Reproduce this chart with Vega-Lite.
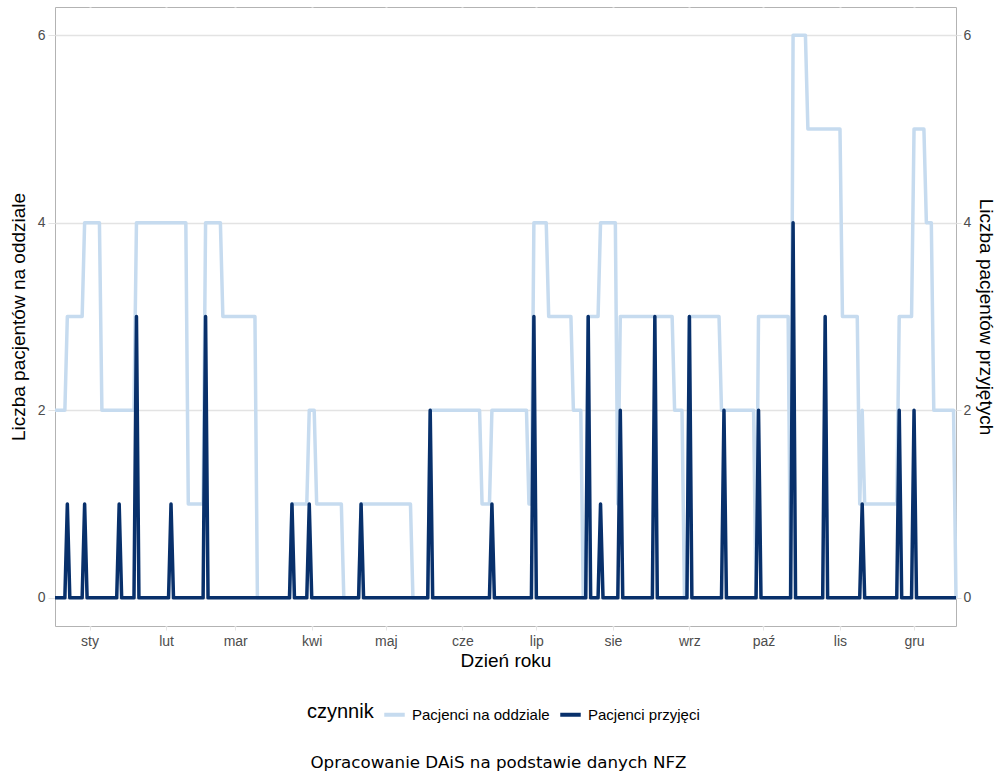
{
"$schema": "https://vega.github.io/schema/vega-lite/v6.json",
"width": 901, "height": 619,
"autosize": {"type": "none"},
"padding": {"left": 55, "top": 7, "right": 44, "bottom": 149},
"background": "white",
"config": {
  "view": {"stroke": "#b3b3b3", "strokeWidth": 1},
  "font": "Liberation Sans",
  "axis": {"labelFont": "Liberation Sans", "titleFont": "Liberation Sans", "titleFontWeight": "normal", "labelColor": "#4d4d4d", "titleColor": "#000000", "domain": false},
  "legend": {"orient": "none", "legendX": 252, "legendY": 695, "direction": "horizontal", "titleOrient": "left", "titleFontSize": 20, "titleFontWeight": "normal", "titleColor": "#000000", "titleFont": "Liberation Sans", "labelFont": "Liberation Sans", "labelFontSize": 15, "labelColor": "#000000", "symbolType": "stroke", "symbolStrokeWidth": 4, "symbolSize": 420, "columnPadding": 2, "labelOffset": 5, "titlePadding": 8},
  "title": {"font": "DejaVu Sans", "fontSize": 16.7, "fontWeight": "normal", "color": "#000000"}
},
"title": {"text": "Opracowanie DAiS na podstawie danych NFZ", "orient": "bottom", "anchor": "middle", "offset": 32, "dx": -7},
"data": {"values": [
{"d":1,"o":2,"a":0},{"d":2,"o":2,"a":0},{"d":3,"o":2,"a":0},{"d":4,"o":2,"a":0},{"d":5,"o":2,"a":0},
{"d":6,"o":3,"a":1},{"d":7,"o":3,"a":0},{"d":8,"o":3,"a":0},{"d":9,"o":3,"a":0},{"d":10,"o":3,"a":0},{"d":11,"o":3,"a":0},{"d":12,"o":3,"a":0},
{"d":13,"o":4,"a":1},{"d":14,"o":4,"a":0},{"d":15,"o":4,"a":0},{"d":16,"o":4,"a":0},{"d":17,"o":4,"a":0},{"d":18,"o":4,"a":0},{"d":19,"o":4,"a":0},
{"d":20,"o":2,"a":0},{"d":21,"o":2,"a":0},{"d":22,"o":2,"a":0},{"d":23,"o":2,"a":0},{"d":24,"o":2,"a":0},{"d":25,"o":2,"a":0},{"d":26,"o":2,"a":0},{"d":27,"o":2,"a":1},{"d":28,"o":2,"a":0},{"d":29,"o":2,"a":0},{"d":30,"o":2,"a":0},{"d":31,"o":2,"a":0},{"d":32,"o":2,"a":0},{"d":33,"o":2,"a":0},
{"d":34,"o":4,"a":3},{"d":35,"o":4,"a":0},{"d":36,"o":4,"a":0},{"d":37,"o":4,"a":0},{"d":38,"o":4,"a":0},{"d":39,"o":4,"a":0},{"d":40,"o":4,"a":0},{"d":41,"o":4,"a":0},{"d":42,"o":4,"a":0},{"d":43,"o":4,"a":0},{"d":44,"o":4,"a":0},{"d":45,"o":4,"a":0},{"d":46,"o":4,"a":0},{"d":47,"o":4,"a":0},{"d":48,"o":4,"a":1},{"d":49,"o":4,"a":0},{"d":50,"o":4,"a":0},{"d":51,"o":4,"a":0},{"d":52,"o":4,"a":0},{"d":53,"o":4,"a":0},{"d":54,"o":4,"a":0},
{"d":55,"o":1,"a":0},{"d":56,"o":1,"a":0},{"d":57,"o":1,"a":0},{"d":58,"o":1,"a":0},{"d":59,"o":1,"a":0},{"d":60,"o":1,"a":0},{"d":61,"o":1,"a":0},
{"d":62,"o":4,"a":3},{"d":63,"o":4,"a":0},{"d":64,"o":4,"a":0},{"d":65,"o":4,"a":0},{"d":66,"o":4,"a":0},{"d":67,"o":4,"a":0},{"d":68,"o":4,"a":0},
{"d":69,"o":3,"a":0},{"d":70,"o":3,"a":0},{"d":71,"o":3,"a":0},{"d":72,"o":3,"a":0},{"d":73,"o":3,"a":0},{"d":74,"o":3,"a":0},{"d":75,"o":3,"a":0},{"d":76,"o":3,"a":0},{"d":77,"o":3,"a":0},{"d":78,"o":3,"a":0},{"d":79,"o":3,"a":0},{"d":80,"o":3,"a":0},{"d":81,"o":3,"a":0},{"d":82,"o":3,"a":0},
{"d":83,"o":0,"a":0},{"d":84,"o":0,"a":0},{"d":85,"o":0,"a":0},{"d":86,"o":0,"a":0},{"d":87,"o":0,"a":0},{"d":88,"o":0,"a":0},{"d":89,"o":0,"a":0},{"d":90,"o":0,"a":0},{"d":91,"o":0,"a":0},{"d":92,"o":0,"a":0},{"d":93,"o":0,"a":0},{"d":94,"o":0,"a":0},{"d":95,"o":0,"a":0},{"d":96,"o":0,"a":0},
{"d":97,"o":1,"a":1},{"d":98,"o":1,"a":0},{"d":99,"o":1,"a":0},{"d":100,"o":1,"a":0},{"d":101,"o":1,"a":0},{"d":102,"o":1,"a":0},{"d":103,"o":1,"a":0},
{"d":104,"o":2,"a":1},{"d":105,"o":2,"a":0},{"d":106,"o":2,"a":0},
{"d":107,"o":1,"a":0},{"d":108,"o":1,"a":0},{"d":109,"o":1,"a":0},{"d":110,"o":1,"a":0},{"d":111,"o":1,"a":0},{"d":112,"o":1,"a":0},{"d":113,"o":1,"a":0},{"d":114,"o":1,"a":0},{"d":115,"o":1,"a":0},{"d":116,"o":1,"a":0},{"d":117,"o":1,"a":0},
{"d":118,"o":0,"a":0},{"d":119,"o":0,"a":0},{"d":120,"o":0,"a":0},{"d":121,"o":0,"a":0},{"d":122,"o":0,"a":0},{"d":123,"o":0,"a":0},{"d":124,"o":0,"a":0},
{"d":125,"o":1,"a":1},{"d":126,"o":1,"a":0},{"d":127,"o":1,"a":0},{"d":128,"o":1,"a":0},{"d":129,"o":1,"a":0},{"d":130,"o":1,"a":0},{"d":131,"o":1,"a":0},{"d":132,"o":1,"a":0},{"d":133,"o":1,"a":0},{"d":134,"o":1,"a":0},{"d":135,"o":1,"a":0},{"d":136,"o":1,"a":0},{"d":137,"o":1,"a":0},{"d":138,"o":1,"a":0},{"d":139,"o":1,"a":0},{"d":140,"o":1,"a":0},{"d":141,"o":1,"a":0},{"d":142,"o":1,"a":0},{"d":143,"o":1,"a":0},{"d":144,"o":1,"a":0},{"d":145,"o":1,"a":0},
{"d":146,"o":0,"a":0},{"d":147,"o":0,"a":0},{"d":148,"o":0,"a":0},{"d":149,"o":0,"a":0},{"d":150,"o":0,"a":0},{"d":151,"o":0,"a":0},{"d":152,"o":0,"a":0},
{"d":153,"o":2,"a":2},{"d":154,"o":2,"a":0},{"d":155,"o":2,"a":0},{"d":156,"o":2,"a":0},{"d":157,"o":2,"a":0},{"d":158,"o":2,"a":0},{"d":159,"o":2,"a":0},{"d":160,"o":2,"a":0},{"d":161,"o":2,"a":0},{"d":162,"o":2,"a":0},{"d":163,"o":2,"a":0},{"d":164,"o":2,"a":0},{"d":165,"o":2,"a":0},{"d":166,"o":2,"a":0},{"d":167,"o":2,"a":0},{"d":168,"o":2,"a":0},{"d":169,"o":2,"a":0},{"d":170,"o":2,"a":0},{"d":171,"o":2,"a":0},{"d":172,"o":2,"a":0},{"d":173,"o":2,"a":0},
{"d":174,"o":1,"a":0},{"d":175,"o":1,"a":0},{"d":176,"o":1,"a":0},{"d":177,"o":1,"a":0},
{"d":178,"o":2,"a":1},{"d":179,"o":2,"a":0},{"d":180,"o":2,"a":0},{"d":181,"o":2,"a":0},{"d":182,"o":2,"a":0},{"d":183,"o":2,"a":0},{"d":184,"o":2,"a":0},{"d":185,"o":2,"a":0},{"d":186,"o":2,"a":0},{"d":187,"o":2,"a":0},{"d":188,"o":2,"a":0},{"d":189,"o":2,"a":0},{"d":190,"o":2,"a":0},{"d":191,"o":2,"a":0},{"d":192,"o":2,"a":0},
{"d":193,"o":1,"a":0},{"d":194,"o":1,"a":0},
{"d":195,"o":4,"a":3},{"d":196,"o":4,"a":0},{"d":197,"o":4,"a":0},{"d":198,"o":4,"a":0},{"d":199,"o":4,"a":0},{"d":200,"o":4,"a":0},
{"d":201,"o":3,"a":0},{"d":202,"o":3,"a":0},{"d":203,"o":3,"a":0},{"d":204,"o":3,"a":0},{"d":205,"o":3,"a":0},{"d":206,"o":3,"a":0},{"d":207,"o":3,"a":0},{"d":208,"o":3,"a":0},{"d":209,"o":3,"a":0},{"d":210,"o":3,"a":0},
{"d":211,"o":2,"a":0},{"d":212,"o":2,"a":0},{"d":213,"o":2,"a":0},{"d":214,"o":2,"a":0},
{"d":215,"o":0,"a":0},{"d":216,"o":0,"a":0},
{"d":217,"o":3,"a":3},{"d":218,"o":3,"a":0},{"d":219,"o":3,"a":0},{"d":220,"o":3,"a":0},{"d":221,"o":3,"a":0},
{"d":222,"o":4,"a":1},{"d":223,"o":4,"a":0},{"d":224,"o":4,"a":0},{"d":225,"o":4,"a":0},{"d":226,"o":4,"a":0},{"d":227,"o":4,"a":0},{"d":228,"o":4,"a":0},
{"d":229,"o":1,"a":0},
{"d":230,"o":3,"a":2},{"d":231,"o":3,"a":0},{"d":232,"o":3,"a":0},{"d":233,"o":3,"a":0},{"d":234,"o":3,"a":0},{"d":235,"o":3,"a":0},{"d":236,"o":3,"a":0},{"d":237,"o":3,"a":0},{"d":238,"o":3,"a":0},{"d":239,"o":3,"a":0},{"d":240,"o":3,"a":0},{"d":241,"o":3,"a":0},{"d":242,"o":3,"a":0},{"d":243,"o":3,"a":0},{"d":244,"o":3,"a":3},{"d":245,"o":3,"a":0},{"d":246,"o":3,"a":0},{"d":247,"o":3,"a":0},{"d":248,"o":3,"a":0},{"d":249,"o":3,"a":0},{"d":250,"o":3,"a":0},{"d":251,"o":3,"a":0},
{"d":252,"o":2,"a":0},{"d":253,"o":2,"a":0},{"d":254,"o":2,"a":0},{"d":255,"o":2,"a":0},
{"d":256,"o":0,"a":0},{"d":257,"o":0,"a":0},
{"d":258,"o":3,"a":3},{"d":259,"o":3,"a":0},{"d":260,"o":3,"a":0},{"d":261,"o":3,"a":0},{"d":262,"o":3,"a":0},{"d":263,"o":3,"a":0},{"d":264,"o":3,"a":0},{"d":265,"o":3,"a":0},{"d":266,"o":3,"a":0},{"d":267,"o":3,"a":0},{"d":268,"o":3,"a":0},{"d":269,"o":3,"a":0},{"d":270,"o":3,"a":0},
{"d":271,"o":2,"a":0},{"d":272,"o":2,"a":2},{"d":273,"o":2,"a":0},{"d":274,"o":2,"a":0},{"d":275,"o":2,"a":0},{"d":276,"o":2,"a":0},{"d":277,"o":2,"a":0},{"d":278,"o":2,"a":0},{"d":279,"o":2,"a":0},{"d":280,"o":2,"a":0},{"d":281,"o":2,"a":0},{"d":282,"o":2,"a":0},{"d":283,"o":2,"a":0},{"d":284,"o":2,"a":0},
{"d":285,"o":0,"a":0},
{"d":286,"o":3,"a":2},{"d":287,"o":3,"a":0},{"d":288,"o":3,"a":0},{"d":289,"o":3,"a":0},{"d":290,"o":3,"a":0},{"d":291,"o":3,"a":0},{"d":292,"o":3,"a":0},{"d":293,"o":3,"a":0},{"d":294,"o":3,"a":0},{"d":295,"o":3,"a":0},{"d":296,"o":3,"a":0},{"d":297,"o":3,"a":0},{"d":298,"o":3,"a":0},
{"d":299,"o":0,"a":0},
{"d":300,"o":6,"a":4},{"d":301,"o":6,"a":0},{"d":302,"o":6,"a":0},{"d":303,"o":6,"a":0},{"d":304,"o":6,"a":0},{"d":305,"o":6,"a":0},
{"d":306,"o":5,"a":0},{"d":307,"o":5,"a":0},{"d":308,"o":5,"a":0},{"d":309,"o":5,"a":0},{"d":310,"o":5,"a":0},{"d":311,"o":5,"a":0},{"d":312,"o":5,"a":0},{"d":313,"o":5,"a":3},{"d":314,"o":5,"a":0},{"d":315,"o":5,"a":0},{"d":316,"o":5,"a":0},{"d":317,"o":5,"a":0},{"d":318,"o":5,"a":0},{"d":319,"o":5,"a":0},
{"d":320,"o":3,"a":0},{"d":321,"o":3,"a":0},{"d":322,"o":3,"a":0},{"d":323,"o":3,"a":0},{"d":324,"o":3,"a":0},{"d":325,"o":3,"a":0},{"d":326,"o":3,"a":0},
{"d":327,"o":1,"a":0},{"d":328,"o":2,"a":1},
{"d":329,"o":1,"a":0},{"d":330,"o":1,"a":0},{"d":331,"o":1,"a":0},{"d":332,"o":1,"a":0},{"d":333,"o":1,"a":0},{"d":334,"o":1,"a":0},{"d":335,"o":1,"a":0},{"d":336,"o":1,"a":0},{"d":337,"o":1,"a":0},{"d":338,"o":1,"a":0},{"d":339,"o":1,"a":0},{"d":340,"o":1,"a":0},{"d":341,"o":1,"a":0},{"d":342,"o":1,"a":0},
{"d":343,"o":3,"a":2},{"d":344,"o":3,"a":0},{"d":345,"o":3,"a":0},{"d":346,"o":3,"a":0},{"d":347,"o":3,"a":0},{"d":348,"o":3,"a":0},
{"d":349,"o":5,"a":2},{"d":350,"o":5,"a":0},{"d":351,"o":5,"a":0},{"d":352,"o":5,"a":0},{"d":353,"o":5,"a":0},
{"d":354,"o":4,"a":0},{"d":355,"o":4,"a":0},{"d":356,"o":4,"a":0},
{"d":357,"o":2,"a":0},{"d":358,"o":2,"a":0},{"d":359,"o":2,"a":0},{"d":360,"o":2,"a":0},{"d":361,"o":2,"a":0},{"d":362,"o":2,"a":0},{"d":363,"o":2,"a":0},{"d":364,"o":2,"a":0},{"d":365,"o":2,"a":0},
{"d":366,"o":0,"a":0}
]},
"encoding": {
  "x": {"field": "d", "type": "quantitative",
    "scale": {"domain": [1, 366], "nice": false, "zero": false},
    "axis": {"values": [15,46,74,105,135,166,196,227,258,288,319,349],
      "labelExpr": "['sty','lut','mar','kwi','maj','cze','lip','sie','wrz','paź','lis','gru'][indexof([15,46,74,105,135,166,196,227,258,288,319,349], datum.value)]",
      "grid": true, "gridColor": "#ffffff", "gridWidth": 2,
      "ticks": true, "tickColor": "#e5e5e5", "tickSize": 4,
      "labelFontSize": 14, "labelPadding": 4, "labelFlush": false,
      "title": "Dzień roku", "titleFontSize": 19, "titlePadding": 3}
  }
},
"layer": [
  {"mark": {"type": "line", "strokeWidth": 3.5, "strokeJoin": "round"},
   "encoding": {
     "y": {"field": "o", "type": "quantitative",
       "scale": {"domain": [-0.3, 6.3], "nice": false, "zero": false},
       "axis": {"orient": "left", "values": [0, 2, 4, 6], "grid": true, "gridColor": "#e3e3e3", "gridWidth": 1.6,
         "tickColor": "#e3e3e3", "tickSize": 7, "labelFontSize": 14, "labelPadding": 3,
         "title": "Liczba pacjentów na oddziale", "titleFontSize": 19, "titlePadding": 9}},
     "color": {"datum": "Pacjenci na oddziale", "type": "nominal",
       "scale": {"domain": ["Pacjenci na oddziale", "Pacjenci przyjęci"], "range": ["#c6dbef", "#08306b"]},
       "legend": {"title": "czynnik"}}
   }},
  {"mark": {"type": "line", "strokeWidth": 3.5, "strokeJoin": "round"},
   "encoding": {
     "y": {"field": "a", "type": "quantitative",
       "scale": {"domain": [-0.3, 6.3], "nice": false, "zero": false},
       "axis": {"orient": "right", "values": [0, 2, 4, 6], "grid": false,
         "tickColor": "#e3e3e3", "tickSize": 5, "labelFontSize": 14, "labelPadding": 2,
         "title": "Liczba pacjentów przyjętych", "titleFontSize": 19, "titleAngle": 90, "titlePadding": 5}},
     "color": {"datum": "Pacjenci przyjęci", "type": "nominal"}
   }}
],
"resolve": {"scale": {"y": "independent"}}
}
